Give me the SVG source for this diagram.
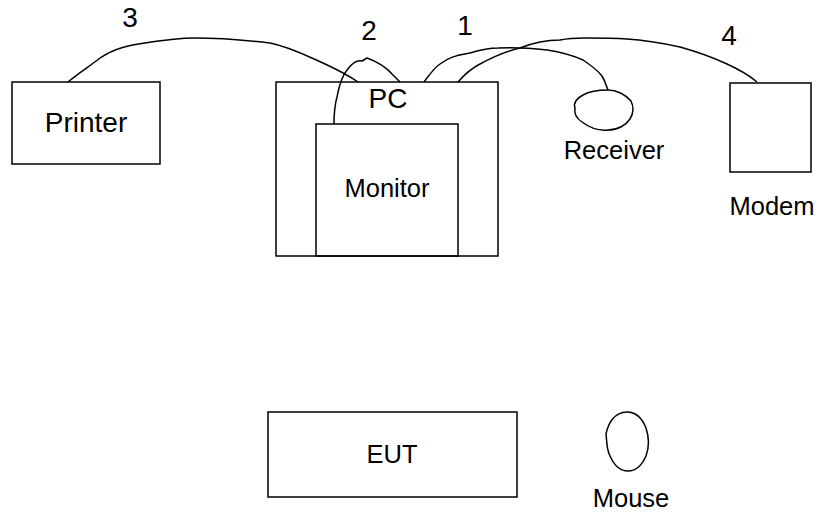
<svg xmlns="http://www.w3.org/2000/svg" width="819" height="513" viewBox="0 0 819 513">
<style>
.box{fill:none;stroke:#000;stroke-width:1.5}
.cable{fill:none;stroke:#000;stroke-width:1.5;stroke-linejoin:round}
text{font-family:"Liberation Sans",Arial,sans-serif;fill:#000}
.big{font-size:28px}
.mid{font-size:25.5px}
</style>
<rect width="819" height="513" fill="#fff"/>
<g id="connectors">
<path class="cable" d="M68,82 C80,72 90,66 100,58 C115,48 130,45 145,43 C165,40 180,38 193,38 C220,38 245,40 270,43 C290,47 305,55 323,63 C338,70 348,75 358,82"/>
<path class="cable" d="M334,124 C334,112 335,104 337,97 C339,86 342,76 347,70 C352,63 357,60 362,61 L367,58 C378,62 385,66 392,74 L400,82"/>
<path class="cable" d="M424,82 C430,74 434,68 440,64 C450,56 460,55 470,53 C480,50 490,48 498,48 C515,47 530,48 547,50 C560,52 572,55 583,60 C592,66 598,71 602,76 C605,81 606,85 608,90"/>
<path class="cable" d="M458,82 C465,74 472,68 480,64 C495,56 507,51 520,48 C535,42 548,40 560,40 C570,38 578,38 585,38 C600,38 612,38 627,39 C645,40 662,43 680,47 C698,52 714,58 727,64 C740,70 750,76 757,82"/>
</g>
<g id="printer">
<rect class="box" x="12" y="82" width="148" height="82"/>
<text class="big" x="86" y="132" text-anchor="middle">Printer</text>
</g>
<g id="pc">
<rect class="box" x="276" y="82" width="222" height="174"/>
<text class="big" x="388" y="108" text-anchor="middle">PC</text>
</g>
<g id="monitor">
<rect class="box" x="316" y="124" width="142" height="132" fill="#fff"/>
<text class="mid" x="387" y="197" text-anchor="middle">Monitor</text>
</g>
<g id="receiver">
<path class="box" d="M608,90 C617,90 626,95 631,101 C634,107 633,114 630,119 C626,125 618,130 608,130 C598,131 590,128 582,122 C576,118 574,113 575,108 C573,103 577,98 583,95 C590,91 599,90 608,90 Z"/>
<text class="mid" x="614" y="159" text-anchor="middle">Receiver</text>
</g>
<g id="modem">
<rect class="box" x="730" y="83" width="81" height="89"/>
<text class="mid" x="772" y="215" text-anchor="middle">Modem</text>
</g>
<g id="eut">
<rect class="box" x="268" y="412" width="249" height="85"/>
<text class="mid" x="392" y="463" text-anchor="middle">EUT</text>
</g>
<g id="mouse">
<path class="box" d="M627,412 C636,412 642,418 646,428 C649,437 649,448 646,456 C642,465 636,471 628,471 C620,471 614,465 610,456 C606,448 607,440 606,434 C608,424 614,412 627,412 Z"/>
<text class="mid" x="631" y="507" text-anchor="middle">Mouse</text>
</g>
<g id="labels">
<text class="big" x="130" y="27" text-anchor="middle">3</text>
<text class="big" x="369" y="40" text-anchor="middle">2</text>
<text class="big" x="465" y="35" text-anchor="middle">1</text>
<text class="big" x="729" y="45" text-anchor="middle">4</text>
</g>
</svg>
